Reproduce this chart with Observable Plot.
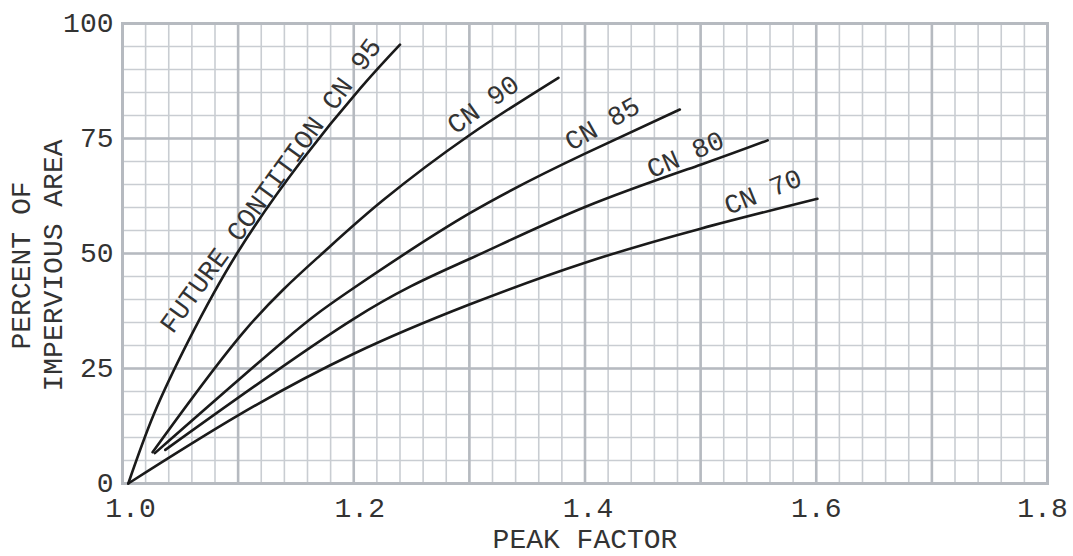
<!DOCTYPE html>
<html>
<head>
<meta charset="utf-8">
<script src="https://cdn.jsdelivr.net/npm/d3@7"></script>
<script src="https://cdn.jsdelivr.net/npm/@observablehq/plot@0.6"></script>
<style>
  html, body { margin: 0; padding: 0; background: #fff; }
  #chart svg { display: block; }
</style>
</head>
<body>
<div id="chart"></div>
<script>
// ---- data ----
const cn95x = [1.005, 1.027, 1.057, 1.099, 1.155, 1.206, 1.240];
const cn95y = [0, 15.0, 31.0, 50.0, 70.2, 86.0, 95.4];

const cn90x = [1.026, 1.106, 1.171, 1.225, 1.300, 1.377];
const cn90y = [6.8, 33.3, 49.6, 61.5, 75.7, 88.2];

const cn85x = [1.028, 1.140, 1.200, 1.300, 1.400, 1.482];
const cn85y = [6.6, 31.1, 42.5, 58.7, 71.7, 81.3];

const cn80x = [1.037, 1.200, 1.300, 1.400, 1.500, 1.558];
const cn80y = [7.3, 35.8, 48.8, 60.1, 69.3, 74.6];

const cn70x = [1.005, 1.100, 1.200, 1.300, 1.400, 1.500, 1.601];
const cn70y = [0, 14.8, 28.2, 38.9, 48.0, 55.4, 61.9];

const curveNames = ["CN 95", "CN 90", "CN 85", "CN 80", "CN 70"];
const curveX = [cn95x, cn90x, cn85x, cn80x, cn70x];
const curveY = [cn95y, cn90y, cn85y, cn80y, cn70y];

// curve labels: text, x, y, angle
const labelText = ["FUTURE CONTITION CN 95", "CN 90", "CN 85", "CN 80", "CN 70"];
const labelX = [1.128, 1.312, 1.415, 1.487, 1.554];
const labelY = [64.8, 82.4, 78.2, 71.5, 63.4];
const labelAngle = [-54, -35.5, -29.5, -23.4, -22];

// axes
const xTickLabels = [1.0, 1.2, 1.4, 1.6, 1.8];
const xTickNudge = [8, 6, 3, 0, -5];   // small horizontal offsets seen in the reference
const xMajorGrid = [1.0, 1.1, 1.2, 1.3, 1.4, 1.5, 1.6, 1.7, 1.8];
const xMinorGrid = d3.range(0, 41).map(i => 1 + i * 0.02);
const yTickLabels = [0, 25, 50, 75, 100];
const yMinorGrid = d3.range(0, 21).map(i => i * 5);
const xTitle = "PEAK FACTOR";
const yTitle = "PERCENT OF\nIMPERVIOUS AREA";

// ---- build ----
const rows = [];
curveNames.forEach((name, k) => {
  curveX[k].forEach((x, i) => rows.push({name, x, y: curveY[k][i]}));
});
const labels = labelText.map((t, i) => ({t, x: labelX[i], y: labelY[i], a: labelAngle[i]}));

const font = "'Liberation Mono', 'Courier New', monospace";
const minorColor = "#c9cdd2";
const majorColor = "#b6bac0";
const textColor = "#333333";

const xTickMarks = xTickLabels.map((v, i) => Plot.text([v], {
  x: d => d, text: d => d.toFixed(1), frameAnchor: "bottom",
  dx: xTickNudge[i], dy: 25, lineAnchor: "middle", fill: textColor
}));

const chart = Plot.plot({
  width: 1073,
  height: 556,
  marginLeft: 122,
  marginRight: 26,
  marginTop: 23,
  marginBottom: 73,
  style: {fontFamily: font, fontSize: "28px", color: textColor, background: "#fff"},
  x: {domain: [1.0, 1.8], axis: null},
  y: {domain: [0, 100], axis: null},
  marks: [
    Plot.ruleX(xMinorGrid, {x: d => d, stroke: minorColor, strokeWidth: 1.6}),
    Plot.ruleY(yMinorGrid, {y: d => d, stroke: minorColor, strokeWidth: 1.6}),
    Plot.ruleX(xMajorGrid, {x: d => d, stroke: majorColor, strokeWidth: 2.6}),
    Plot.ruleY(yTickLabels, {y: d => d, stroke: majorColor, strokeWidth: 2.6}),
    Plot.frame({stroke: majorColor, strokeWidth: 3}),
    Plot.line(rows, {x: "x", y: "y", z: "name", curve: "natural", stroke: "#1a1a1a", strokeWidth: 2.6}),
    Plot.text(labels, {
      x: "x", y: "y", text: "t", rotate: d => d.a,
      fontSize: 27, fill: textColor, textAnchor: "middle", lineAnchor: "middle"
    }),
    ...xTickMarks,
    Plot.text(yTickLabels, {
      y: d => d, text: d => String(d), frameAnchor: "left",
      dx: -9, textAnchor: "end", lineAnchor: "middle", fill: textColor
    }),
    // axis titles
    Plot.text([xTitle], {
      frameAnchor: "bottom", dy: 56, lineAnchor: "middle", fill: textColor
    }),
    Plot.text([yTitle], {
      frameAnchor: "left", dx: -87, dy: 12, rotate: -90, lineAnchor: "middle",
      textAnchor: "middle", lineHeight: 1.15, fill: textColor
    })
  ]
});
document.getElementById("chart").appendChild(chart);
</script>
</body>
</html>
